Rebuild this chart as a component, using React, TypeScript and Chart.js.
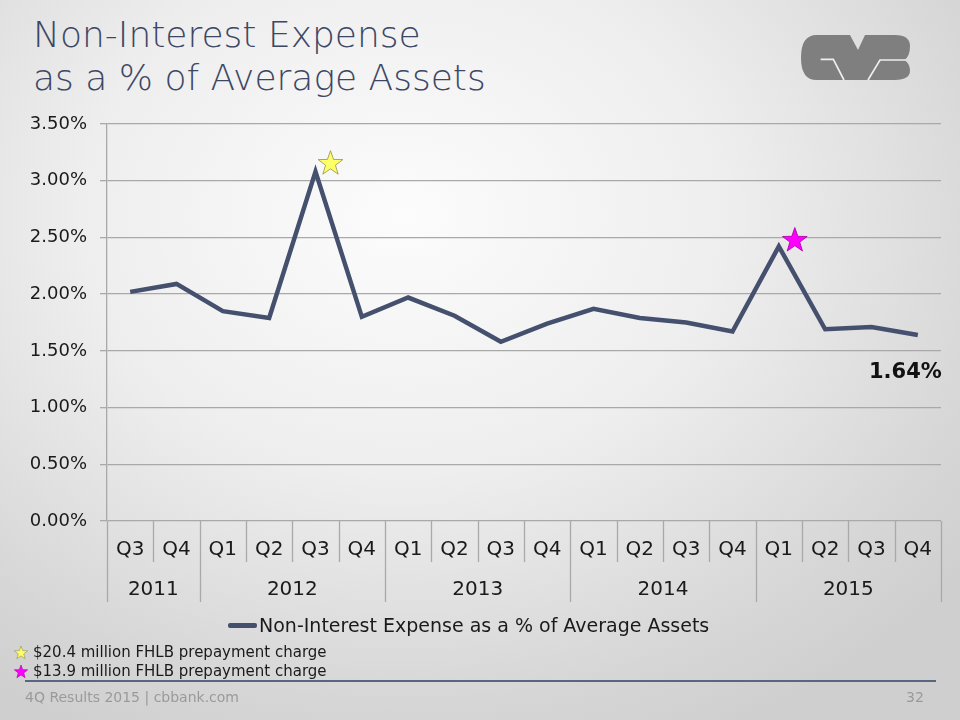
import React, { useEffect, useRef } from "react";
import { Chart, registerables } from "chart.js";

Chart.register(...registerables);

// ---- Data ----
const quarterLabels = ["Q3", "Q4", "Q1", "Q2", "Q3", "Q4", "Q1", "Q2", "Q3", "Q4", "Q1", "Q2", "Q3", "Q4", "Q1", "Q2", "Q3", "Q4"];
const yearLabels = ["2011", "2012", "2013", "2014", "2015"];
const yearSpans = [2, 4, 4, 4, 4];
const expenseRatio = [2.02, 2.09, 1.85, 1.79, 3.08, 1.8, 1.97, 1.81, 1.58, 1.74, 1.87, 1.79, 1.75, 1.67, 2.42, 1.69, 1.71, 1.64];
const seriesName = "Non-Interest Expense as a % of Average Assets";
const yTicks = [0, 0.5, 1.0, 1.5, 2.0, 2.5, 3.0, 3.5];
const starIndices = [4, 14];
const starColors = ["#ffff66", "#ff00ff"];
const footnotes = ["$20.4 million FHLB prepayment charge", "$13.9 million FHLB prepayment charge"];

const FONT = '"DejaVu Sans", "Noto Sans", sans-serif';
const LINE_COLOR = "#44506d";
const GRID_COLOR = "#a9a9a9";

function drawStar(ctx: CanvasRenderingContext2D, cx: number, cy: number, r: number, fill: string, stroke: string) {
  const inner = r * 0.4;
  ctx.beginPath();
  for (let k = 0; k < 10; k++) {
    const rad = k % 2 === 0 ? r : inner;
    const a = -Math.PI / 2 + (k * Math.PI) / 5;
    const px = cx + rad * Math.cos(a);
    const py = cy + rad * Math.sin(a);
    if (k === 0) ctx.moveTo(px, py);
    else ctx.lineTo(px, py);
  }
  ctx.closePath();
  ctx.fillStyle = fill;
  ctx.fill();
  ctx.lineWidth = 0.8;
  ctx.strokeStyle = stroke;
  ctx.stroke();
}

const STAR_OFFSETS = [
  { dx: 15, dy: -8 },
  { dx: 16, dy: -6 },
];
const STAR_STROKES = ["#8f8f50", "#a000a0"];

const overlayPlugin = {
  id: "overlay",
  afterDraw(chart: any) {
    const ctx: CanvasRenderingContext2D = chart.ctx;
    const xs = chart.scales.x;
    const ys = chart.scales.y;
    const area = chart.chartArea;
    const n = quarterLabels.length;
    const px = (i: number) => xs.getPixelForValue(i);
    ctx.save();

    // group boundaries
    const yearStarts = new Set<number>();
    let acc = 0;
    yearSpans.forEach((s) => {
      yearStarts.add(acc);
      acc += s;
    });
    yearStarts.add(n);

    const boundaryX = (i: number) => (i === 0 ? area.left : i === n ? area.right : (px(i - 1) + px(i)) / 2);

    ctx.strokeStyle = GRID_COLOR;
    ctx.lineWidth = 1.3;
    for (let i = 0; i <= n; i++) {
      const bx = Math.round(boundaryX(i)) + 0.5;
      const long = yearStarts.has(i);
      ctx.beginPath();
      ctx.moveTo(bx, area.bottom);
      ctx.lineTo(bx, area.bottom + (long ? 81 : 41));
      ctx.stroke();
    }

    // quarter labels
    ctx.fillStyle = "#1a1a1a";
    ctx.textAlign = "center";
    ctx.textBaseline = "middle";
    ctx.font = `20px ${FONT}`;
    quarterLabels.forEach((q, i) => ctx.fillText(q, px(i), area.bottom + 29));

    // year labels
    let start = 0;
    yearLabels.forEach((yl, g) => {
      const end = start + yearSpans[g];
      const cx = (boundaryX(start) + boundaryX(end)) / 2;
      ctx.fillText(yl, cx, area.bottom + 69);
      start = end;
    });

    // annotation stars
    starIndices.forEach((idx, k) => {
      const sx = px(idx) + STAR_OFFSETS[k].dx;
      const sy = ys.getPixelForValue(expenseRatio[idx]) + STAR_OFFSETS[k].dy;
      drawStar(ctx, sx, sy, 13, starColors[k], STAR_STROKES[k]);
    });

    // last value label
    const last = expenseRatio.length - 1;
    ctx.font = `bold 21px ${FONT}`;
    ctx.textAlign = "right";
    ctx.textBaseline = "alphabetic";
    ctx.fillStyle = "#111111";
    ctx.fillText(expenseRatio[last].toFixed(2) + "%", px(last) + 24, ys.getPixelForValue(expenseRatio[last]) + 43);

    ctx.restore();
  },
};

function StarIcon({ color, stroke }: { color: string; stroke: string }) {
  const pts: string[] = [];
  for (let k = 0; k < 10; k++) {
    const rad = k % 2 === 0 ? 7 : 2.9;
    const a = -Math.PI / 2 + (k * Math.PI) / 5;
    pts.push(`${8 + rad * Math.cos(a)},${8 + rad * Math.sin(a)}`);
  }
  return (
    <svg width="16" height="16" viewBox="0 0 16 16" style={{ display: "block" }}>
      <polygon points={pts.join(" ")} fill={color} stroke={stroke} strokeWidth="0.6" />
    </svg>
  );
}

export default function App() {
  const canvasRef = useRef<HTMLCanvasElement | null>(null);

  useEffect(() => {
    document.body.style.margin = "0";
    const canvas = canvasRef.current;
    if (!canvas) return;
    const chart = new Chart(canvas, {
      type: "line",
      data: {
        labels: quarterLabels,
        datasets: [
          {
            label: seriesName,
            data: expenseRatio,
            borderColor: LINE_COLOR,
            backgroundColor: LINE_COLOR,
            borderWidth: 4.5,
            pointRadius: 0,
            pointHoverRadius: 0,
            tension: 0,
            borderJoinStyle: "miter",
            borderCapStyle: "butt",
          },
        ],
      },
      options: {
        responsive: false,
        devicePixelRatio: 1,
        animation: false,
        events: [],
        layout: { padding: { left: 0, top: 124, right: 19, bottom: 118 } },
        plugins: { legend: { display: false }, tooltip: { enabled: false } },
        scales: {
          x: {
            type: "category",
            offset: true,
            grid: { display: false },
            border: { display: false },
            ticks: { display: false },
            afterFit: (scale: any) => {
              scale.height = 81;
            },
          },
          y: {
            min: 0,
            max: 3.5,
            afterBuildTicks: (scale: any) => {
              scale.ticks = yTicks.map((v) => ({ value: v }));
            },
            ticks: {
              padding: 13,
              color: "#1a1a1a",
              font: { family: FONT, size: 18 },
              callback: (v: any) => Number(v).toFixed(2) + "%",
            },
            grid: { color: GRID_COLOR, lineWidth: 1.3, tickLength: 7, drawTicks: true },
            border: { display: true, color: GRID_COLOR, width: 1.3 },
            afterFit: (scale: any) => {
              scale.width = 107;
            },
          },
        },
      },
      plugins: [overlayPlugin],
    } as any);
    return () => chart.destroy();
  }, []);

  return (
    <div
      style={{
        position: "absolute",
        left: 0,
        top: 0,
        width: 960,
        height: 720,
        overflow: "hidden",
        background: "radial-gradient(ellipse 75% 80% at 42% 30%, #fcfcfc 0%, #eeeeee 45%, #d6d6d6 85%, #cfcfcf 100%)",
        fontFamily: FONT,
      }}
    >
      <div
        style={{
          position: "absolute",
          left: 33,
          top: 13,
          fontSize: 36,
          lineHeight: "43px",
          fontWeight: 200,
          color: "#3c4765",
          whiteSpace: "nowrap",
        }}
      >
        Non-Interest Expense
        <br />
        as a % of Average Assets
      </div>

      <svg style={{ position: "absolute", left: 800, top: 33 }} width="120" height="50" viewBox="0 0 360 150">
        <path
          d="M 50,6 L 150,6 L 174,51 L 195,6 L 285,6 Q 330,6 330,40 Q 330,70 313,81 Q 330,92 330,112 Q 330,141 285,141 L 50,141 Q 3,141 3,74 Q 3,6 50,6 Z"
          fill="#7f7f7f"
        />
        <path d="M 62,79 L 100,79 L 132,141" fill="none" stroke="#eeeeee" strokeWidth="5" />
        <path d="M 204,141 L 240,81 L 316,81" fill="none" stroke="#eeeeee" strokeWidth="5" />
      </svg>

      <canvas ref={canvasRef} width={960} height={720} style={{ position: "absolute", left: 0, top: 0, width: 960, height: 720 }} />

      {/* legend */}
      <div style={{ position: "absolute", left: 228, top: 623, width: 29, height: 4.5, background: LINE_COLOR, borderRadius: 2 }} />
      <div
        style={{ position: "absolute", left: 259, top: 616, fontSize: 19, lineHeight: "19px", color: "#1a1a1a", whiteSpace: "nowrap" }}
      >
        {seriesName}
      </div>

      {/* footnotes */}
      {footnotes.map((t, k) => (
        <div
          key={k}
          style={{ position: "absolute", left: 13, top: 644 + k * 19, display: "flex", alignItems: "center", whiteSpace: "nowrap" }}
        >
          <StarIcon color={starColors[k]} stroke={STAR_STROKES[k]} />
          <span style={{ fontSize: 15, lineHeight: "17px", color: "#1a1a1a", marginLeft: 4 }}>{t}</span>
        </div>
      ))}

      {/* footer */}
      <div style={{ position: "absolute", left: 25, top: 680, width: 911, height: 1.5, background: "#5a6580" }} />
      <div style={{ position: "absolute", left: 25, top: 690, fontSize: 14, lineHeight: "14px", color: "#9a9a9a", whiteSpace: "nowrap" }}>
        4Q Results 2015 | cbbank.com
      </div>
      <div style={{ position: "absolute", left: 906, top: 690, fontSize: 14, lineHeight: "14px", color: "#9a9a9a" }}>32</div>
    </div>
  );
}
